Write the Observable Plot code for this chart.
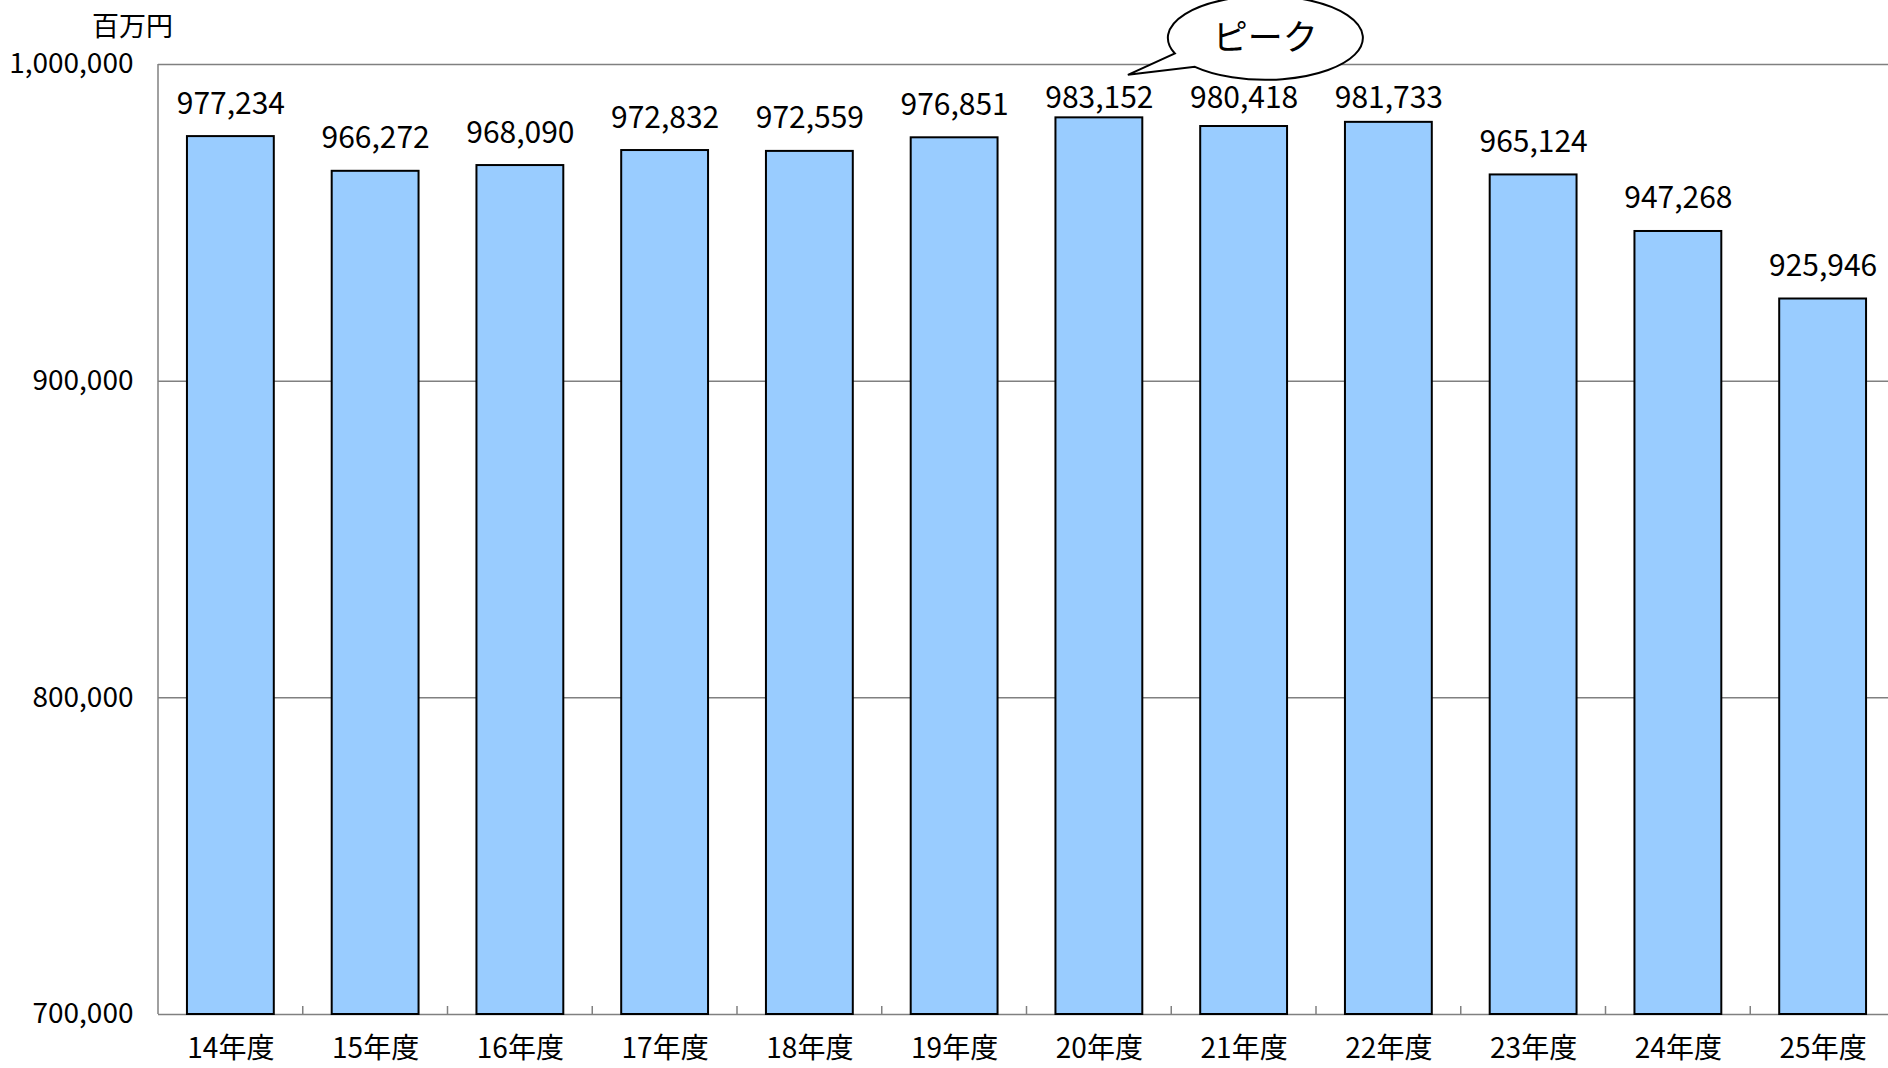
<!DOCTYPE html>
<html>
<head>
<meta charset="utf-8">
<script src="https://cdn.jsdelivr.net/npm/d3@7"></script>
<script src="https://cdn.jsdelivr.net/npm/@observablehq/plot@0.6"></script>
<style>
  html, body { margin: 0; padding: 0; background: #fff; overflow: hidden; }
  #chart { position: relative; width: 1888px; height: 1068px; overflow: hidden; }
  #chart svg { display: block; }
</style>
</head>
<body>
<div id="chart"></div>
<script>
const categories = ["14年度","15年度","16年度","17年度","18年度","19年度","20年度","21年度","22年度","23年度","24年度","25年度"];
const values = [977234, 966272, 968090, 972832, 972559, 976851, 983152, 980418, 981733, 965124, 947268, 925946];
const yTicks = [700000, 800000, 900000, 1000000];
const unitLabel = "百万円";
const peakLabel = "ピーク";

const data = categories.map((c, i) => ({cat: c, value: values[i]}));
const font = "'Noto Sans CJK JP', 'Noto Sans', sans-serif";
const fmt = d3.format(",");
const labelCeiling = 979000;

// left axis line and boundary tick marks between categories
function boundaryTicks(index, scales, values, dims) {
  const sx = scales.x;
  const bw = typeof sx.bandwidth === "function" ? sx.bandwidth() : (sx.bandwidth ?? 0);
  const step = typeof sx.step === "function" ? sx.step() : bw / 0.6;
  const bottom = dims.height - dims.marginBottom;
  const top = dims.marginTop;
  const g = d3.create("svg:g");
  categories.forEach((c, i) => {
    const x = sx(c) - (step - bw) / 2;
    g.append("line").attr("x1", x).attr("x2", x)
      .attr("y1", bottom).attr("y2", i === 0 ? top : bottom - 8)
      .attr("stroke", "#808080").attr("stroke-width", 1.5);
  });
  return g.node();
}

// speech-bubble callout pointing at the peak bar
function callout(index, scales, values2, dims) {
  const sx = scales.x, sy = scales.y;
  const bw = typeof sx.bandwidth === "function" ? sx.bandwidth() : (sx.bandwidth ?? 0);
  const peakIdx = values.indexOf(d3.max(values));
  const px = sx(categories[peakIdx]) + bw / 2;
  const py = sy(values[peakIdx]);
  const cx = px + 166.5, cy = py - 79.5, rx = 97.5, ry = 42;
  const tipX = px + 29, tipY = py - 42.5;
  const pt = (xx, below) => {
    const t = (xx - cx) / rx;
    return [xx, cy + (below ? 1 : -1) * ry * Math.sqrt(Math.max(0, 1 - t * t))];
  };
  const A = pt(cx - 90.5, true);
  const B = pt(cx - 70.5, true);
  const path = `M${B[0]},${B[1]} A${rx},${ry} 0 1 0 ${A[0]},${A[1]} L${tipX},${tipY} Z`;
  const g = d3.create("svg:g");
  g.append("path").attr("d", path).attr("fill", "white").attr("stroke", "black").attr("stroke-width", 2);
  g.append("text").attr("x", cx).attr("y", cy).attr("dy", "0.36em")
    .attr("text-anchor", "middle").attr("font-size", 35).attr("font-family", font)
    .attr("fill", "black").text(peakLabel);
  return g.node();
}

const chart = Plot.plot({
  width: 1888,
  height: 1068,
  marginTop: 64,
  marginBottom: 54,
  marginLeft: 158,
  marginRight: 0,
  style: {fontFamily: font, fontSize: "28px", color: "black", background: "white"},
  x: {domain: categories, range: [158, 1895], round: false, paddingInner: 0.4, paddingOuter: 0.2, align: 0.5, label: null},
  y: {domain: [700000, 1000000], clamp: true, label: null},
  marks: [
    Plot.ruleY(yTicks, {stroke: "#808080", strokeWidth: 1.5}),
    Plot.barY(data, {x: "cat", y: "value", fill: "#99CCFF", stroke: "black", strokeWidth: 2}),
    boundaryTicks,
    Plot.text(data, {
      x: "cat",
      y: d => Math.min(d.value, labelCeiling),
      text: d => fmt(d.value),
      lineAnchor: "bottom",
      dy: -23,
      fontSize: 30,
      fill: "black"
    }),
    Plot.axisY({ticks: yTicks, tickFormat: fmt, tickSize: 0, tickPadding: 25, fontSize: 28, label: null}),
    Plot.axisX({tickSize: 0, tickPadding: 24, fontSize: 28, label: null}),
    Plot.text([unitLabel], {
      frameAnchor: "top-left",
      text: d => d,
      dx: -26,
      dy: -37,
      textAnchor: "middle",
      lineAnchor: "middle",
      fontSize: 27,
      fill: "black"
    }),
    callout
  ]
});
document.getElementById("chart").appendChild(chart);
</script>
</body>
</html>
